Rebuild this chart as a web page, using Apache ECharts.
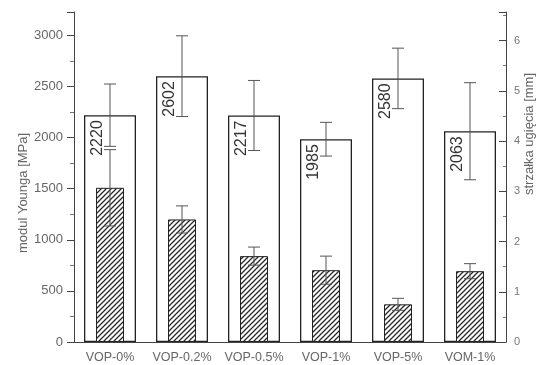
<!DOCTYPE html>
<html>
<head>
<meta charset="utf-8">
<script src="https://cdn.jsdelivr.net/npm/echarts@6/dist/echarts.min.js"></script>
<style>
  html, body { margin: 0; padding: 0; background: #fff; }
  #chart { width: 544px; height: 365px; }
</style>
</head>
<body>
<div id="chart"></div>
<script>
// Sample groups
const categories = ['VOP-0%', 'VOP-0.2%', 'VOP-0.5%', 'VOP-1%', 'VOP-5%', 'VOM-1%'];
// Young's modulus [MPa] with standard deviation
const modulus = [2220, 2602, 2217, 1985, 2580, 2063];
const modulusErr = [305, 395, 343, 165, 296, 475];
// Deflection [mm] with standard deviation
const deflection = [3.07, 2.44, 1.71, 1.43, 0.75, 1.41];
const deflectionErr = [0.76, 0.27, 0.18, 0.28, 0.12, 0.15];

const FONT = 'Liberation Sans, Arial, sans-serif';
const AXIS_COLOR = '#444';
const TEXT_COLOR = '#666';

// diagonal hatching tile for the deflection bars
function makeHatch() {
  const s = 5;
  const c = document.createElement('canvas');
  c.width = s; c.height = s;
  const ctx = c.getContext('2d');
  ctx.fillStyle = '#fff';
  ctx.fillRect(0, 0, s, s);
  ctx.strokeStyle = '#2a2a2a';
  ctx.lineWidth = 1.3;
  ctx.beginPath();
  ctx.moveTo(-1, s + 1); ctx.lineTo(s + 1, -1);
  ctx.moveTo(-1, 1); ctx.lineTo(1, -1);
  ctx.moveTo(s - 1, s + 1); ctx.lineTo(s + 1, s - 1);
  ctx.stroke();
  return c;
}

function errorBarRenderer(capHalf) {
  return function (params, api) {
    const i = api.value(0);
    const v = api.value(1);
    const e = api.value(2);
    const hi = api.coord([i, v + e]);
    const lo = api.coord([i, v - e]);
    const style = { stroke: '#555', lineWidth: 1 };
    return {
      type: 'group',
      children: [
        { type: 'line', shape: { x1: hi[0], y1: hi[1], x2: lo[0], y2: lo[1] }, style },
        { type: 'line', shape: { x1: hi[0] - capHalf, y1: hi[1], x2: hi[0] + capHalf, y2: hi[1] }, style },
        { type: 'line', shape: { x1: lo[0] - capHalf, y1: lo[1], x2: lo[0] + capHalf, y2: lo[1] }, style }
      ]
    };
  };
}

const plainNumber = v => String(v);

const chart = echarts.init(document.getElementById('chart'), null, { renderer: 'canvas' });

chart.setOption({
  backgroundColor: '#fff',
  animation: false,
  grid: { left: 74, right: 38, top: 12, bottom: 23 },
  xAxis: [
    {
      type: 'category',
      data: categories,
      axisLine: { lineStyle: { color: AXIS_COLOR, width: 1 } },
      axisTick: { alignWithLabel: true, length: 5, lineStyle: { color: AXIS_COLOR } },
      axisLabel: { margin: 9, fontSize: 12.5, color: TEXT_COLOR, fontFamily: FONT, interval: 0 },
      splitLine: { show: false }
    },
    {
      type: 'category',
      data: categories,
      show: false
    }
  ],
  yAxis: [
    {
      type: 'value',
      position: 'left',
      min: 0,
      max: 3230,
      interval: 500,
      axisLine: { show: true, lineStyle: { color: AXIS_COLOR, width: 1 } },
      axisTick: { show: true, length: 7, lineStyle: { color: AXIS_COLOR } },
      minorTick: { show: true, splitNumber: 2, length: 4, lineStyle: { color: '#777' } },
      axisLabel: { showMaxLabel: false, margin: 11, fontSize: 13, color: TEXT_COLOR, fontFamily: FONT, formatter: plainNumber },
      splitLine: { show: false }
    },
    {
      type: 'value',
      position: 'right',
      min: 0,
      max: 6.57,
      interval: 1,
      axisLine: { show: true, lineStyle: { color: AXIS_COLOR, width: 1 } },
      axisTick: { show: true, inside: true, length: 7, lineStyle: { color: AXIS_COLOR } },
      minorTick: { show: true, splitNumber: 2, length: 3, lineStyle: { color: '#777' } },
      axisLabel: { showMaxLabel: false, margin: 8, fontSize: 11, color: '#777', fontFamily: FONT, formatter: plainNumber },
      splitLine: { show: false }
    }
  ],
  graphic: [
    {
      type: 'text', x: 23, y: 193, rotation: Math.PI / 2,
      style: { text: 'modul Younga [MPa]', align: 'center', verticalAlign: 'middle', fontSize: 13, fontFamily: FONT, fill: TEXT_COLOR }
    },
    {
      type: 'text', x: 529, y: 134, rotation: Math.PI / 2,
      style: { text: 'strzałka ugięcia [mm]', align: 'center', verticalAlign: 'middle', fontSize: 13, fontFamily: FONT, fill: TEXT_COLOR }
    }
  ],
  series: [
    {
      name: 'modul Younga',
      type: 'bar',
      xAxisIndex: 0,
      yAxisIndex: 0,
      data: modulus,
      barWidth: 52,
      itemStyle: { color: '#fff', borderColor: '#222', borderWidth: 1.3 },
      z: 2
    },
    {
      name: 'strzałka ugięcia',
      type: 'bar',
      xAxisIndex: 1,
      yAxisIndex: 1,
      data: deflection,
      barWidth: 28,
      itemStyle: { color: { image: makeHatch(), repeat: 'repeat' }, borderColor: '#222', borderWidth: 1 },
      z: 3
    },
    {
      type: 'custom',
      xAxisIndex: 0,
      yAxisIndex: 0,
      data: modulus.map((v, i) => [i, v, modulusErr[i]]),
      renderItem: errorBarRenderer(6),
      z: 5
    },
    {
      type: 'custom',
      xAxisIndex: 1,
      yAxisIndex: 1,
      data: deflection.map((v, i) => [i, v, deflectionErr[i]]),
      renderItem: errorBarRenderer(6),
      z: 5
    },
    {
      // vertical value labels inside the modulus bars
      type: 'custom',
      xAxisIndex: 0,
      yAxisIndex: 0,
      data: modulus.map((v, i) => [i, v]),
      renderItem: function (params, api) {
        const p = api.coord([api.value(0), api.value(1)]);
        return {
          type: 'text',
          x: p[0] - 12,
          y: p[1] + 5,
          rotation: Math.PI / 2,
          style: {
            text: String(api.value(1)),
            align: 'right',
            verticalAlign: 'middle',
            fontSize: 16,
            fontFamily: FONT,
            fill: '#333'
          }
        };
      },
      z: 6
    }
  ]
});
</script>
</body>
</html>
